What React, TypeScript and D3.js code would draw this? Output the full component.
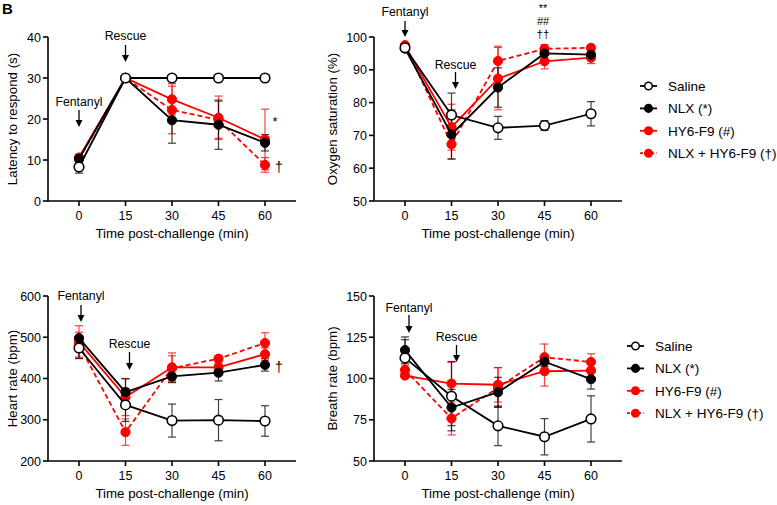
import React from "react";
import * as d3 from "d3";

const times = [0, 15, 30, 45, 60];
const groupNames = ["Saline", "NLX (*)", "HY6-F9 (#)", "NLX + HY6-F9 (†)"];

// Latency to respond (s)
const latSaline = [8.3, 30, 30, 30, 30];
const latSalineErr = [1.5, 0, 0, 0, 0];
const latNLX = [10.3, 30, 19.7, 18.6, 14.2];
const latNLXErr = [0.8, 0, 5.6, 6.0, 2.0];
const latHY6 = [10.6, 30, 24.8, 20.3, 15.0];
const latHY6Err = [0.8, 0, 3.8, 5.3, 7.4];
const latCombo = [10.2, 30, 22.2, 19.8, 8.8];
const latComboErr = [0.6, 0, 5.8, 4.5, 1.8];

// Oxygen saturation (%)
const oxSaline = [96.7, 76.2, 72.3, 73.0, 76.6];
const oxSalineErr = [1.0, 6.7, 3.5, 1.5, 3.7];
const oxNLX = [96.5, 70.3, 84.6, 95.0, 94.6];
const oxNLXErr = [1.0, 7.5, 6.0, 1.5, 1.5];
const oxHY6 = [97.3, 72.5, 87.3, 92.6, 93.7];
const oxHY6Err = [0.8, 7.0, 9.5, 2.3, 1.8];
const oxCombo = [97.5, 67.3, 92.7, 96.4, 96.7];
const oxComboErr = [0.8, 4.5, 4.5, 1.3, 0.8];

// Heart rate (bpm)
const hrSaline = [474, 336, 298, 299, 297];
const hrSalineErr = [25, 40, 40, 50, 37];
const hrNLX = [498, 367, 405, 414, 433];
const hrNLXErr = [5, 32, 15, 20, 15];
const hrHY6 = [488, 355, 427, 427, 459];
const hrHY6Err = [40, 45, 35, 10, 15];
const hrCombo = [482, 270, 425, 448, 486];
const hrComboErr = [30, 32, 30, 8, 25];

// Breath rate (brpm)
const brSaline = [112.5, 89.3, 71.3, 64.7, 75.5];
const brSalineErr = [11, 21, 12, 11, 14];
const brNLX = [117.2, 82.4, 91.7, 110.2, 99.6];
const brNLXErr = [8, 11, 9, 3, 6];
const brHY6 = [101.8, 96.9, 96.2, 104.4, 104.8];
const brHY6Err = [1.2, 13, 10.5, 9, 4];
const brCombo = [105.2, 75.8, 94.5, 112.9, 110];
const brComboErr = [3, 10, 12, 8, 5];

const xTicks = [0, 15, 30, 45, 60];
const latTicks = [0, 10, 20, 30, 40];
const oxTicks = [50, 60, 70, 80, 90, 100];
const hrTicks = [200, 300, 400, 500, 600];
const brTicks = [50, 75, 100, 125, 150];

const RED = "#ff0000";
const FONT = "'Liberation Sans', Arial, sans-serif";

type Series = { vals: number[]; errs: number[]; color: string; dashed: boolean; open: boolean };

type Ann = { text: string; x: number; y: number; size?: number };
type Arrow = { label: string; t: number; textY: number; arrowTop: number; arrowBot: number; dx?: number };

function Panel(props: {
  left: number; top: number; bottom: number;
  yDomain: [number, number]; yTicks: number[]; yLabel: string; yLabelX: number;
  series: Series[]; arrows: Arrow[]; anns: Ann[];
}) {
  const { left, top, bottom, yDomain, yTicks, yLabel, yLabelX, series, arrows, anns } = props;
  const x = d3.scaleLinear().domain([-10, 70]).range([left, left + 248]);
  const y = d3.scaleLinear().domain(yDomain).range([bottom, top]);
  const line = d3.line<number>().x((_, i) => x(times[i])).y((v) => y(v));
  const sw = 1.6;
  return (
    <g>
      <line x1={left} x2={left} y1={bottom} y2={top} stroke="#000" strokeWidth={sw} />
      <line x1={left} x2={left + 248} y1={bottom} y2={bottom} stroke="#000" strokeWidth={sw} />
      {yTicks.map((t) => (
        <g key={"y" + t}>
          <line x1={left - 5} x2={left} y1={y(t)} y2={y(t)} stroke="#000" strokeWidth={sw} />
          <text x={left - 7} y={y(t) + 4.5} textAnchor="end" fontSize={12.5} fontFamily={FONT}>{t}</text>
        </g>
      ))}
      {xTicks.map((t) => (
        <g key={"x" + t}>
          <line x1={x(t)} x2={x(t)} y1={bottom} y2={bottom + 5} stroke="#000" strokeWidth={sw} />
          <text x={x(t)} y={bottom + 19} textAnchor="middle" fontSize={12.5} fontFamily={FONT}>{t}</text>
        </g>
      ))}
      <text x={x(30)} y={bottom + 37} textAnchor="middle" fontSize={13.3} fontFamily={FONT}>Time post-challenge (min)</text>
      <text transform={`translate(${yLabelX},${(top + bottom) / 2}) rotate(-90)`} textAnchor="middle" fontSize={13.3} fontFamily={FONT}>{yLabel}</text>
      {series.map((s, si) => (
        <g key={"e" + si} stroke={s.color} strokeWidth={1.2} opacity={0.75}>
          {s.vals.map((v, i) => s.errs[i] > 0 ? (
            <g key={i}>
              <line x1={x(times[i])} x2={x(times[i])} y1={y(v - s.errs[i])} y2={y(v + s.errs[i])} />
              <line x1={x(times[i]) - 4} x2={x(times[i]) + 4} y1={y(v - s.errs[i])} y2={y(v - s.errs[i])} />
              <line x1={x(times[i]) - 4} x2={x(times[i]) + 4} y1={y(v + s.errs[i])} y2={y(v + s.errs[i])} />
            </g>
          ) : null)}
        </g>
      ))}
      {series.map((s, si) => (
        <g key={"l" + si}>
          <path d={line(s.vals) || ""} fill="none" stroke={s.color} strokeWidth={1.8} strokeDasharray={s.dashed ? "5,3" : undefined} />
          {s.vals.map((v, i) => (
            <circle key={i} cx={x(times[i])} cy={y(v)} r={s.open ? 4.8 : 4.6} fill={s.open ? "#fff" : s.color} stroke={s.open ? "#000" : s.color} strokeWidth={s.open ? 1.6 : 1} />
          ))}
        </g>
      ))}
      {arrows.map((a, i) => {
        const ax = x(a.t) + (a.dx || 0);
        return (
          <g key={"a" + i}>
            <text x={ax} y={a.textY + 4.3} textAnchor="middle" fontSize={12.3} fontFamily={FONT}>{a.label}</text>
            <line x1={ax} x2={ax} y1={a.arrowTop} y2={a.arrowBot - 5} stroke="#000" strokeWidth={1.3} />
            <path d={`M${ax - 3.5},${a.arrowBot - 7} L${ax + 3.5},${a.arrowBot - 7} L${ax},${a.arrowBot} Z`} fill="#000" />
          </g>
        );
      })}
      {anns.map((a, i) => (
        <text key={"n" + i} x={a.x} y={a.y} textAnchor="middle" fontSize={a.size || 14} fontFamily={FONT}>{a.text}</text>
      ))}
    </g>
  );
}

function Legend(props: { x: number; y: number; textX: number }) {
  const { x, y, textX } = props;
  const items = [
    { color: "#000", dashed: false, open: true },
    { color: "#000", dashed: false, open: false },
    { color: RED, dashed: false, open: false },
    { color: RED, dashed: true, open: false },
  ];
  return (
    <g>
      {items.map((it, i) => {
        const yy = y + i * 22.4;
        return (
          <g key={i}>
            <line x1={x} x2={x + 17} y1={yy} y2={yy} stroke={it.color} strokeWidth={1.8} strokeDasharray={it.dashed ? "3,2.5" : undefined} />
            <circle cx={x + 8.5} cy={yy} r={3.8} fill={it.open ? "#fff" : it.color} stroke={it.open ? "#000" : it.color} strokeWidth={1.5} />
            <text x={textX} y={yy + 5} fontSize={13.5} fontFamily={FONT}>{groupNames[i]}</text>
          </g>
        );
      })}
    </g>
  );
}

function mk(vals: number[][], errs: number[][]): Series[] {
  return [
    { vals: vals[3], errs: errs[3], color: RED, dashed: true, open: false },
    { vals: vals[2], errs: errs[2], color: RED, dashed: false, open: false },
    { vals: vals[1], errs: errs[1], color: "#000", dashed: false, open: false },
    { vals: vals[0], errs: errs[0], color: "#000", dashed: false, open: true },
  ];
}

export default function App() {
  return (
    <svg width={777} height={505} style={{ position: "absolute", left: 0, top: 0, background: "#fff" }}>
      <rect width={777} height={505} fill="#fff" />
      <text x={2} y={14} fontSize={15} fontWeight="bold" fontFamily={FONT}>B</text>
      <Panel left={48} top={37} bottom={201} yDomain={[0, 40]} yTicks={latTicks} yLabel="Latency to respond (s)" yLabelX={17}
        series={mk([latSaline, latNLX, latHY6, latCombo], [latSalineErr, latNLXErr, latHY6Err, latComboErr])}
        arrows={[{ label: "Fentanyl", t: 0, textY: 102, arrowTop: 110, arrowBot: 127 }, { label: "Rescue", t: 15, textY: 36, arrowTop: 45, arrowBot: 62 }]}
        anns={[{ text: "*", x: 275, y: 126, size: 13 }, { text: "†", x: 279, y: 172, size: 14 }]} />
      <Panel left={374} top={37} bottom={201} yDomain={[50, 100]} yTicks={oxTicks} yLabel="Oxygen saturation (%)" yLabelX={337}
        series={mk([oxSaline, oxNLX, oxHY6, oxCombo], [oxSalineErr, oxNLXErr, oxHY6Err, oxComboErr])}
        arrows={[{ label: "Fentanyl", t: 0, textY: 12, arrowTop: 21, arrowBot: 37 }, { label: "Rescue", t: 15, textY: 65, arrowTop: 72, arrowBot: 89, dx: 4 }]}
        anns={[{ text: "**", x: 543, y: 12, size: 11 }, { text: "##", x: 543, y: 24.5, size: 11 }, { text: "††", x: 543, y: 37.5, size: 11.5 }]} />
      <Panel left={48} top={296} bottom={461} yDomain={[200, 600]} yTicks={hrTicks} yLabel="Heart rate (bpm)" yLabelX={17}
        series={mk([hrSaline, hrNLX, hrHY6, hrCombo], [hrSalineErr, hrNLXErr, hrHY6Err, hrComboErr])}
        arrows={[{ label: "Fentanyl", t: 0, textY: 296, arrowTop: 305, arrowBot: 322, dx: 2 }, { label: "Rescue", t: 15, textY: 344, arrowTop: 352, arrowBot: 370, dx: 4 }]}
        anns={[{ text: "†", x: 279, y: 372, size: 14 }]} />
      <Panel left={374} top={296} bottom={461} yDomain={[50, 150]} yTicks={brTicks} yLabel="Breath rate (bpm)" yLabelX={337}
        series={mk([brSaline, brNLX, brHY6, brCombo], [brSalineErr, brNLXErr, brHY6Err, brComboErr])}
        arrows={[{ label: "Fentanyl", t: 0, textY: 308, arrowTop: 315, arrowBot: 333, dx: 4 }, { label: "Rescue", t: 15, textY: 337, arrowTop: 345, arrowBot: 362, dx: 5 }]}
        anns={[]} />
      <Legend x={640} y={86} textX={668} />
      <Legend x={627} y={346} textX={655} />
    </svg>
  );
}
